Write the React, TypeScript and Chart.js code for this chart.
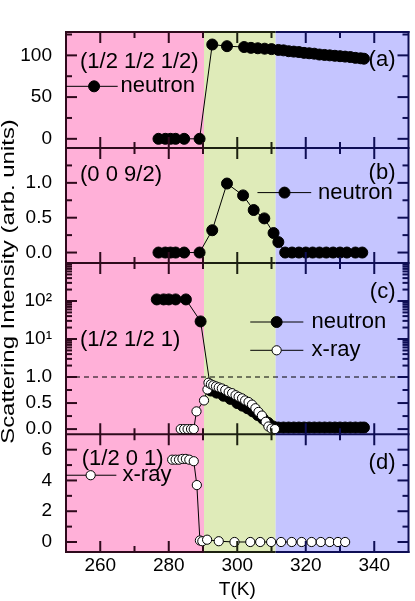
import React, { useEffect, useRef } from 'react';
import { Chart, registerables, LinearScale } from 'chart.js';

Chart.register(...registerables);

// ---------------- data ----------------
// panel (a) (1/2 1/2 1/2) neutron
const A_T = [277, 279, 280.5, 282, 284.5, 289, 292.7, 297, 302, 304, 306, 308, 310, 312, 313.5, 315, 316.5, 318, 319.5, 321, 322.5, 324, 325.5, 327, 328.5, 330, 331.5, 333, 334.5, 336, 337];
const A_NEUTRON = [0, 0, 0, 0, 0, 0, 113, 111, 110, 109, 108.5, 108, 107.5, 106.5, 106, 105, 104.5, 104, 103, 102.5, 102, 101, 100.5, 100, 99.5, 99, 98.5, 98, 97, 96.5, 96];

// panel (b) (0 0 9/2) neutron
const B_T = [277, 279, 280.5, 282, 284.5, 289, 292.7, 297, 301.7, 304.8, 307.9, 310.6, 312, 314, 316, 318, 320, 322, 324, 326, 328, 330, 332, 334.5, 336.5];
const B_NEUTRON = [0, 0, 0, 0, 0, 0, 0.32, 0.99, 0.82, 0.61, 0.49, 0.28, 0.15, 0, 0, 0, 0, 0, 0, 0, 0, 0, 0, 0, 0];

// panel (c) (1/2 1/2 1) neutron and x-ray
const C_T_NEUTRON = [276.5, 278.5, 280, 282, 285, 289.3, 292.3, 294, 296, 298, 300, 301.5, 303, 304.5, 306, 307.5, 309, 310.5, 312, 313.5, 315, 316.5, 318, 319.5, 321, 322.5, 324, 325.5, 327, 328.5, 330, 331.5, 333, 334.5, 336, 337];
const C_NEUTRON = [110, 110, 110, 110, 110, 29, 0.74, 0.7, 0.64, 0.58, 0.5, 0.45, 0.4, 0.34, 0.27, 0.2, 0.12, 0.05, 0.03, 0.03, 0.03, 0.03, 0.03, 0.03, 0.03, 0.03, 0.03, 0.03, 0.03, 0.03, 0.03, 0.03, 0.03, 0.03, 0.03, 0.03];
const C_T_XRAY = [283.5, 284.5, 285.5, 286.5, 287.3, 288.1, 290.3, 291.3, 291.6, 292.3, 293, 293.8, 294.6, 295.5, 296.5, 297.5, 298.5, 299.5, 300.4, 301.4, 302.3, 303.3, 304.3, 305.3, 306.2, 307.2, 308.3, 309.1, 310, 311];
const C_XRAY = [0, 0, 0, 0, 0, 0.34, 0.55, 0.76, 0.89, 0.86, 0.84, 0.82, 0.8, 0.78, 0.75, 0.71, 0.69, 0.65, 0.62, 0.59, 0.55, 0.52, 0.47, 0.4, 0.33, 0.26, 0.14, 0.05, 0.01, 0];

// panel (d) (1/2 0 1) x-ray
const D_T = [281, 282, 283, 284, 285, 286, 287.3, 288.2, 289.1, 289.8, 291.2, 294.6, 299.2, 303.8, 306.7, 309.9, 312.8, 315.9, 318.8, 321.7, 324.4, 327, 329.4, 331.5];
const D_XRAY = [5.35, 5.35, 5.35, 5.4, 5.4, 5.35, 5.25, 3.7, 0.1, 0.05, 0.15, 0.05, 0, 0, 0, 0, 0, 0, 0, 0, 0, 0, 0, 0];

// phase regions (K)
const REGION_EDGES = [250, 290.3, 311.2, 350];

// ticks
const X_TICKS = [260, 280, 300, 320, 340];
const X_MINOR = [270, 290, 310, 330];
const A_TICKS = [0, 50, 100];
const A_MINOR = [25, 75, 125];
const B_TICKS = [0, 0.5, 1];
const B_MINOR = [0.25, 0.75, 1.25];
const C_TICKS = [0, 0.5, 1, 10, 100];
const C_MINOR = [0.25, 0.75, 2, 3, 4, 5, 6, 7, 8, 9, 20, 30, 40, 50, 60, 70, 80, 90, 200, 300, 400, 500, 600, 700, 800, 900];
const D_TICKS = [0, 2, 4, 6];
const D_MINOR = [1, 3, 5];

// ---------------- styles ----------------
const FONT = 'Liberation Sans, Arial, Helvetica, sans-serif';
const REGION_FILL = ['rgb(255,176,216)', 'rgb(223,235,185)', 'rgb(197,197,255)'];
const REGION_DARK = ['#2e0a1c', '#1c2010', '#0e0e55'];

// broken axis: linear below breakValue, logarithmic above
class BrokenScale extends LinearScale {
  static id = 'broken';
  static defaults = LinearScale.defaults;
  frac(v: number) {
    const o: any = this.options;
    const b = o.breakValue, s = o.breakSplit, lo = o.min, hi = o.max;
    if (v <= b) return ((v - lo) / (b - lo)) * s;
    return s + (Math.log10(v / b) / Math.log10(hi / b)) * (1 - s);
  }
  buildTicks() {
    const o: any = this.options;
    this.min = o.min;
    this.max = o.max;
    return (o.tickValues as number[]).map((v) => ({ value: v }));
  }
  getPixelForValue(v: any) {
    if (v === null || v === undefined || isNaN(v)) return NaN;
    return this.getPixelForDecimal(this.frac(+v));
  }
  getValueForPixel(p: number) {
    const o: any = this.options;
    const d = this.getDecimalForPixel(p);
    const b = o.breakValue, s = o.breakSplit, lo = o.min, hi = o.max;
    if (d <= s) return lo + (d / s) * (b - lo);
    return b * Math.pow(10, ((d - s) / (1 - s)) * Math.log10(hi / b));
  }
}
Chart.register(BrokenScale as any);

const pts = (xs: number[], ys: number[]) => xs.map((x, i) => ({ x, y: ys[i] }));

const neutronStyle = {
  borderColor: '#000',
  borderWidth: 1,
  pointRadius: 5.5,
  pointBorderWidth: 1,
  pointBackgroundColor: '#000',
  pointBorderColor: '#000',
  pointHoverRadius: 5.5,
  order: 1,
};
const xrayStyle = {
  borderColor: '#000',
  borderWidth: 1,
  pointRadius: 4.6,
  pointBorderWidth: 1,
  pointBackgroundColor: '#fff',
  pointBorderColor: '#000',
  pointHoverRadius: 4.6,
  order: 0,
};

// annotation texts/legends (positions in data units of each panel)
const LABELS = [
  { scale: 'ya', x: 254.1, y: 92, text: '(1/2 1/2 1/2)', align: 'left' },
  { scale: 'ya', x: 346.2, y: 94, text: '(a)', align: 'right' },
  { scale: 'yb', x: 254.1, y: 1.108, text: '(0 0 9/2)', align: 'left' },
  { scale: 'yb', x: 346.2, y: 1.137, text: '(b)', align: 'right' },
  { scale: 'yc', x: 346.2, y: 172, text: '(c)', align: 'right' },
  { scale: 'yc', x: 254.1, y: 9.2, text: '(1/2 1/2 1)', align: 'left' },
  { scale: 'yd', x: 254.6, y: 5.42, text: '(1/2 0 1)', align: 'left' },
  { scale: 'yd', x: 346.2, y: 5.11, text: '(d)', align: 'right' },
];
const LEGENDS = [
  { scale: 'ya', x0: 250, x1: 265.1, cx: 258.2, y: 62.9, tx: 265.9, text: 'neutron', filled: true },
  { scale: 'yb', x0: 305.9, x1: 321.6, cx: 313.8, y: 0.86, tx: 323.6, text: 'neutron', filled: true },
  { scale: 'yc', x0: 303.8, x1: 319.3, cx: 311.5, y: 28, tx: 321.7, text: 'neutron', filled: true },
  { scale: 'yc', x0: 303.8, x1: 319.3, cx: 311.5, y: 5.04, tx: 321.7, text: 'x-ray', filled: false },
  { scale: 'yd', x0: 250, x1: 264.7, cx: 257.2, y: 4.34, tx: 266.5, text: 'x-ray', filled: false },
];

const regionIndex = (v: number) => {
  for (let i = 0; i < REGION_EDGES.length - 1; i++) if (v <= REGION_EDGES[i + 1]) return i;
  return REGION_EDGES.length - 2;
};

const panelPlugin = {
  id: 'panelPlugin',
  beforeDatasetsDraw(chart: any) {
    const { ctx, chartArea: ca, scales } = chart;
    const xs = scales.x;
    ctx.save();
    for (let i = 0; i < REGION_EDGES.length - 1; i++) {
      const x0 = xs.getPixelForValue(REGION_EDGES[i]);
      const x1 = xs.getPixelForValue(REGION_EDGES[i + 1]);
      ctx.fillStyle = REGION_FILL[i];
      ctx.fillRect(x0, ca.top, x1 - x0, ca.bottom - ca.top);
    }
    const yy = scales.yc.getPixelForValue(1);
    ctx.setLineDash([5, 4]);
    ctx.lineWidth = 1;
    ctx.strokeStyle = '#000';
    ctx.beginPath();
    ctx.moveTo(ca.left, yy);
    ctx.lineTo(ca.right, yy);
    ctx.stroke();
    ctx.restore();
  },
  afterDatasetsDraw(chart: any) {
    const { ctx, chartArea: ca, scales } = chart;
    const xs = scales.x;
    const panels = [
      { s: scales.ya, major: A_TICKS, minor: A_MINOR },
      { s: scales.yb, major: B_TICKS, minor: B_MINOR },
      { s: scales.yc, major: C_TICKS, minor: C_MINOR },
      { s: scales.yd, major: D_TICKS, minor: D_MINOR },
    ];
    const edges = [panels[0].s.top, ...panels.map((p) => p.s.bottom)];
    ctx.save();
    ctx.lineWidth = 2;
    ctx.lineCap = 'butt';
    // y ticks
    panels.forEach((p) => {
      const draw = (vals: number[], len: number) => {
        vals.forEach((v) => {
          const py = p.s.getPixelForValue(v);
          if (py < p.s.top + 1 || py > p.s.bottom - 1) return;
          ctx.strokeStyle = REGION_DARK[0];
          ctx.beginPath();
          ctx.moveTo(ca.left, py);
          ctx.lineTo(ca.left + len, py);
          ctx.stroke();
          ctx.strokeStyle = REGION_DARK[2];
          ctx.beginPath();
          ctx.moveTo(ca.right, py);
          ctx.lineTo(ca.right - len, py);
          ctx.stroke();
        });
      };
      draw(p.major, 11);
      draw(p.minor, 6);
    });
    // x ticks at every panel edge
    const drawX = (vals: number[], len: number) => {
      vals.forEach((v) => {
        const px = xs.getPixelForValue(v);
        ctx.strokeStyle = REGION_DARK[regionIndex(v)];
        edges.forEach((ey: number, i: number) => {
          ctx.beginPath();
          if (i < edges.length - 1) {
            ctx.moveTo(px, ey);
            ctx.lineTo(px, ey + len);
          }
          if (i > 0) {
            ctx.moveTo(px, ey);
            ctx.lineTo(px, ey - len);
          }
          ctx.stroke();
        });
      });
    };
    drawX(X_TICKS, 11);
    drawX(X_MINOR, 6);
    // frame
    edges.forEach((ey: number) => {
      for (let i = 0; i < REGION_EDGES.length - 1; i++) {
        const x0 = i === 0 ? ca.left - 1 : xs.getPixelForValue(REGION_EDGES[i]);
        const x1 = i === REGION_EDGES.length - 2 ? ca.right + 1 : xs.getPixelForValue(REGION_EDGES[i + 1]);
        ctx.strokeStyle = REGION_DARK[i];
        ctx.beginPath();
        ctx.moveTo(x0, ey);
        ctx.lineTo(x1, ey);
        ctx.stroke();
      }
    });
    ctx.strokeStyle = REGION_DARK[0];
    ctx.beginPath();
    ctx.moveTo(ca.left, ca.top - 1);
    ctx.lineTo(ca.left, ca.bottom + 1);
    ctx.stroke();
    ctx.strokeStyle = REGION_DARK[2];
    ctx.beginPath();
    ctx.moveTo(ca.right, ca.top - 1);
    ctx.lineTo(ca.right, ca.bottom + 1);
    ctx.stroke();

    // labels
    ctx.fillStyle = '#000';
    ctx.textBaseline = 'middle';
    ctx.font = `22px ${FONT}`;
    LABELS.forEach((l) => {
      ctx.textAlign = l.align;
      ctx.fillText(l.text, xs.getPixelForValue(l.x), scales[l.scale].getPixelForValue(l.y));
    });
    // legends
    LEGENDS.forEach((l) => {
      const ys = scales[l.scale];
      const py = ys.getPixelForValue(l.y);
      ctx.lineWidth = 1;
      ctx.strokeStyle = '#000';
      ctx.beginPath();
      ctx.moveTo(xs.getPixelForValue(l.x0), py);
      ctx.lineTo(xs.getPixelForValue(l.x1), py);
      ctx.stroke();
      ctx.beginPath();
      ctx.arc(xs.getPixelForValue(l.cx), py, l.filled ? 5.5 : 4.6, 0, Math.PI * 2);
      ctx.fillStyle = l.filled ? '#000' : '#fff';
      ctx.fill();
      ctx.stroke();
      ctx.fillStyle = '#000';
      ctx.textAlign = 'left';
      ctx.fillText(l.text, xs.getPixelForValue(l.tx), py);
    });
    ctx.restore();
  },
  afterDraw(chart: any) {
    const { ctx, chartArea: ca } = chart;
    ctx.save();
    ctx.translate(9, (ca.top + ca.bottom) / 2 - 10.5);
    ctx.rotate(-Math.PI / 2);
    ctx.scale(1.26, 1);
    ctx.font = `19px ${FONT}`;
    ctx.fillStyle = '#000';
    ctx.textAlign = 'center';
    ctx.textBaseline = 'middle';
    ctx.fillText('Scattering Intensity (arb. units)', 0, 0);
    ctx.restore();
  },
};

const tickFont = { family: FONT, size: 19 };

const yAxis = (id: string, extra: any, ticks: number[], fmt: (v: number) => string) => ({
  axis: 'y',
  position: 'left',
  stack: 'panels',
  grid: { display: false, drawTicks: false },
  border: { display: false },
  ticks: {
    font: tickFont,
    color: '#000',
    padding: 14,
    autoSkip: false,
    callback: (v: any) => fmt(+v),
  },
  afterBuildTicks: (s: any) => {
    s.ticks = ticks.map((v) => ({ value: v }));
  },
  afterFit: (s: any) => {
    s.width = 66;
  },
  ...extra,
});

export default function App() {
  const ref = useRef<HTMLCanvasElement | null>(null);
  useEffect(() => {
    if (!ref.current) return;
    const chart = new Chart(ref.current, {
      type: 'line',
      data: {
        datasets: [
          { ...neutronStyle, data: pts(A_T, A_NEUTRON), yAxisID: 'ya' },
          { ...neutronStyle, data: pts(B_T, B_NEUTRON), yAxisID: 'yb' },
          { ...xrayStyle, data: pts(C_T_XRAY, C_XRAY), yAxisID: 'yc' },
          { ...neutronStyle, data: pts(C_T_NEUTRON, C_NEUTRON), yAxisID: 'yc' },
          { ...xrayStyle, data: pts(D_T, D_XRAY), yAxisID: 'yd' },
        ] as any,
      },
      options: {
        animation: false,
        responsive: false,
        devicePixelRatio: 1,
        layout: { padding: { top: 32, right: 3.5, left: 0, bottom: 0 } },
        plugins: { legend: { display: false }, tooltip: { enabled: false } },
        scales: {
          x: {
            type: 'linear',
            position: 'bottom',
            min: 250,
            max: 350,
            grid: { display: false, drawTicks: false },
            border: { display: false },
            ticks: { font: tickFont, color: '#000', padding: 2.6, maxRotation: 0, autoSkip: false },
            afterBuildTicks: (s: any) => {
              s.ticks = X_TICKS.map((v) => ({ value: v }));
            },
            afterFit: (s: any) => {
              s.height = 49;
            },
            title: { display: true, text: 'T(K)', font: tickFont, color: '#000', padding: 0 },
          },
          ya: yAxis('ya', { type: 'linear', min: -11, max: 128, stackWeight: 116, weight: 4 }, A_TICKS, (v) => String(v)),
          yb: yAxis('yb', { type: 'linear', min: -0.15, max: 1.5, stackWeight: 115, weight: 3 }, B_TICKS, (v) => v.toFixed(1)),
          yc: yAxis(
            'yc',
            { type: 'broken', min: -0.1, max: 1000, breakValue: 1, breakSplit: 57.3 / 171.3, tickValues: C_TICKS, stackWeight: 171.3, weight: 2 },
            C_TICKS,
            (v) => (v === 10 ? '10\u00B9' : v === 100 ? '10\u00B2' : v.toFixed(1))
          ),
          yd: yAxis('yd', { type: 'linear', min: -0.65, max: 7, stackWeight: 117.7, weight: 1 }, D_TICKS, (v) => String(v)),
        } as any,
      },
      plugins: [panelPlugin as any],
    });
    return () => chart.destroy();
  }, []);
  return (
    <div style={{ position: 'fixed', left: 0, top: 0, width: 415, height: 601, background: '#fff' }}>
      <canvas ref={ref} width={415} height={601} style={{ width: 415, height: 601, display: 'block' }} />
    </div>
  );
}
